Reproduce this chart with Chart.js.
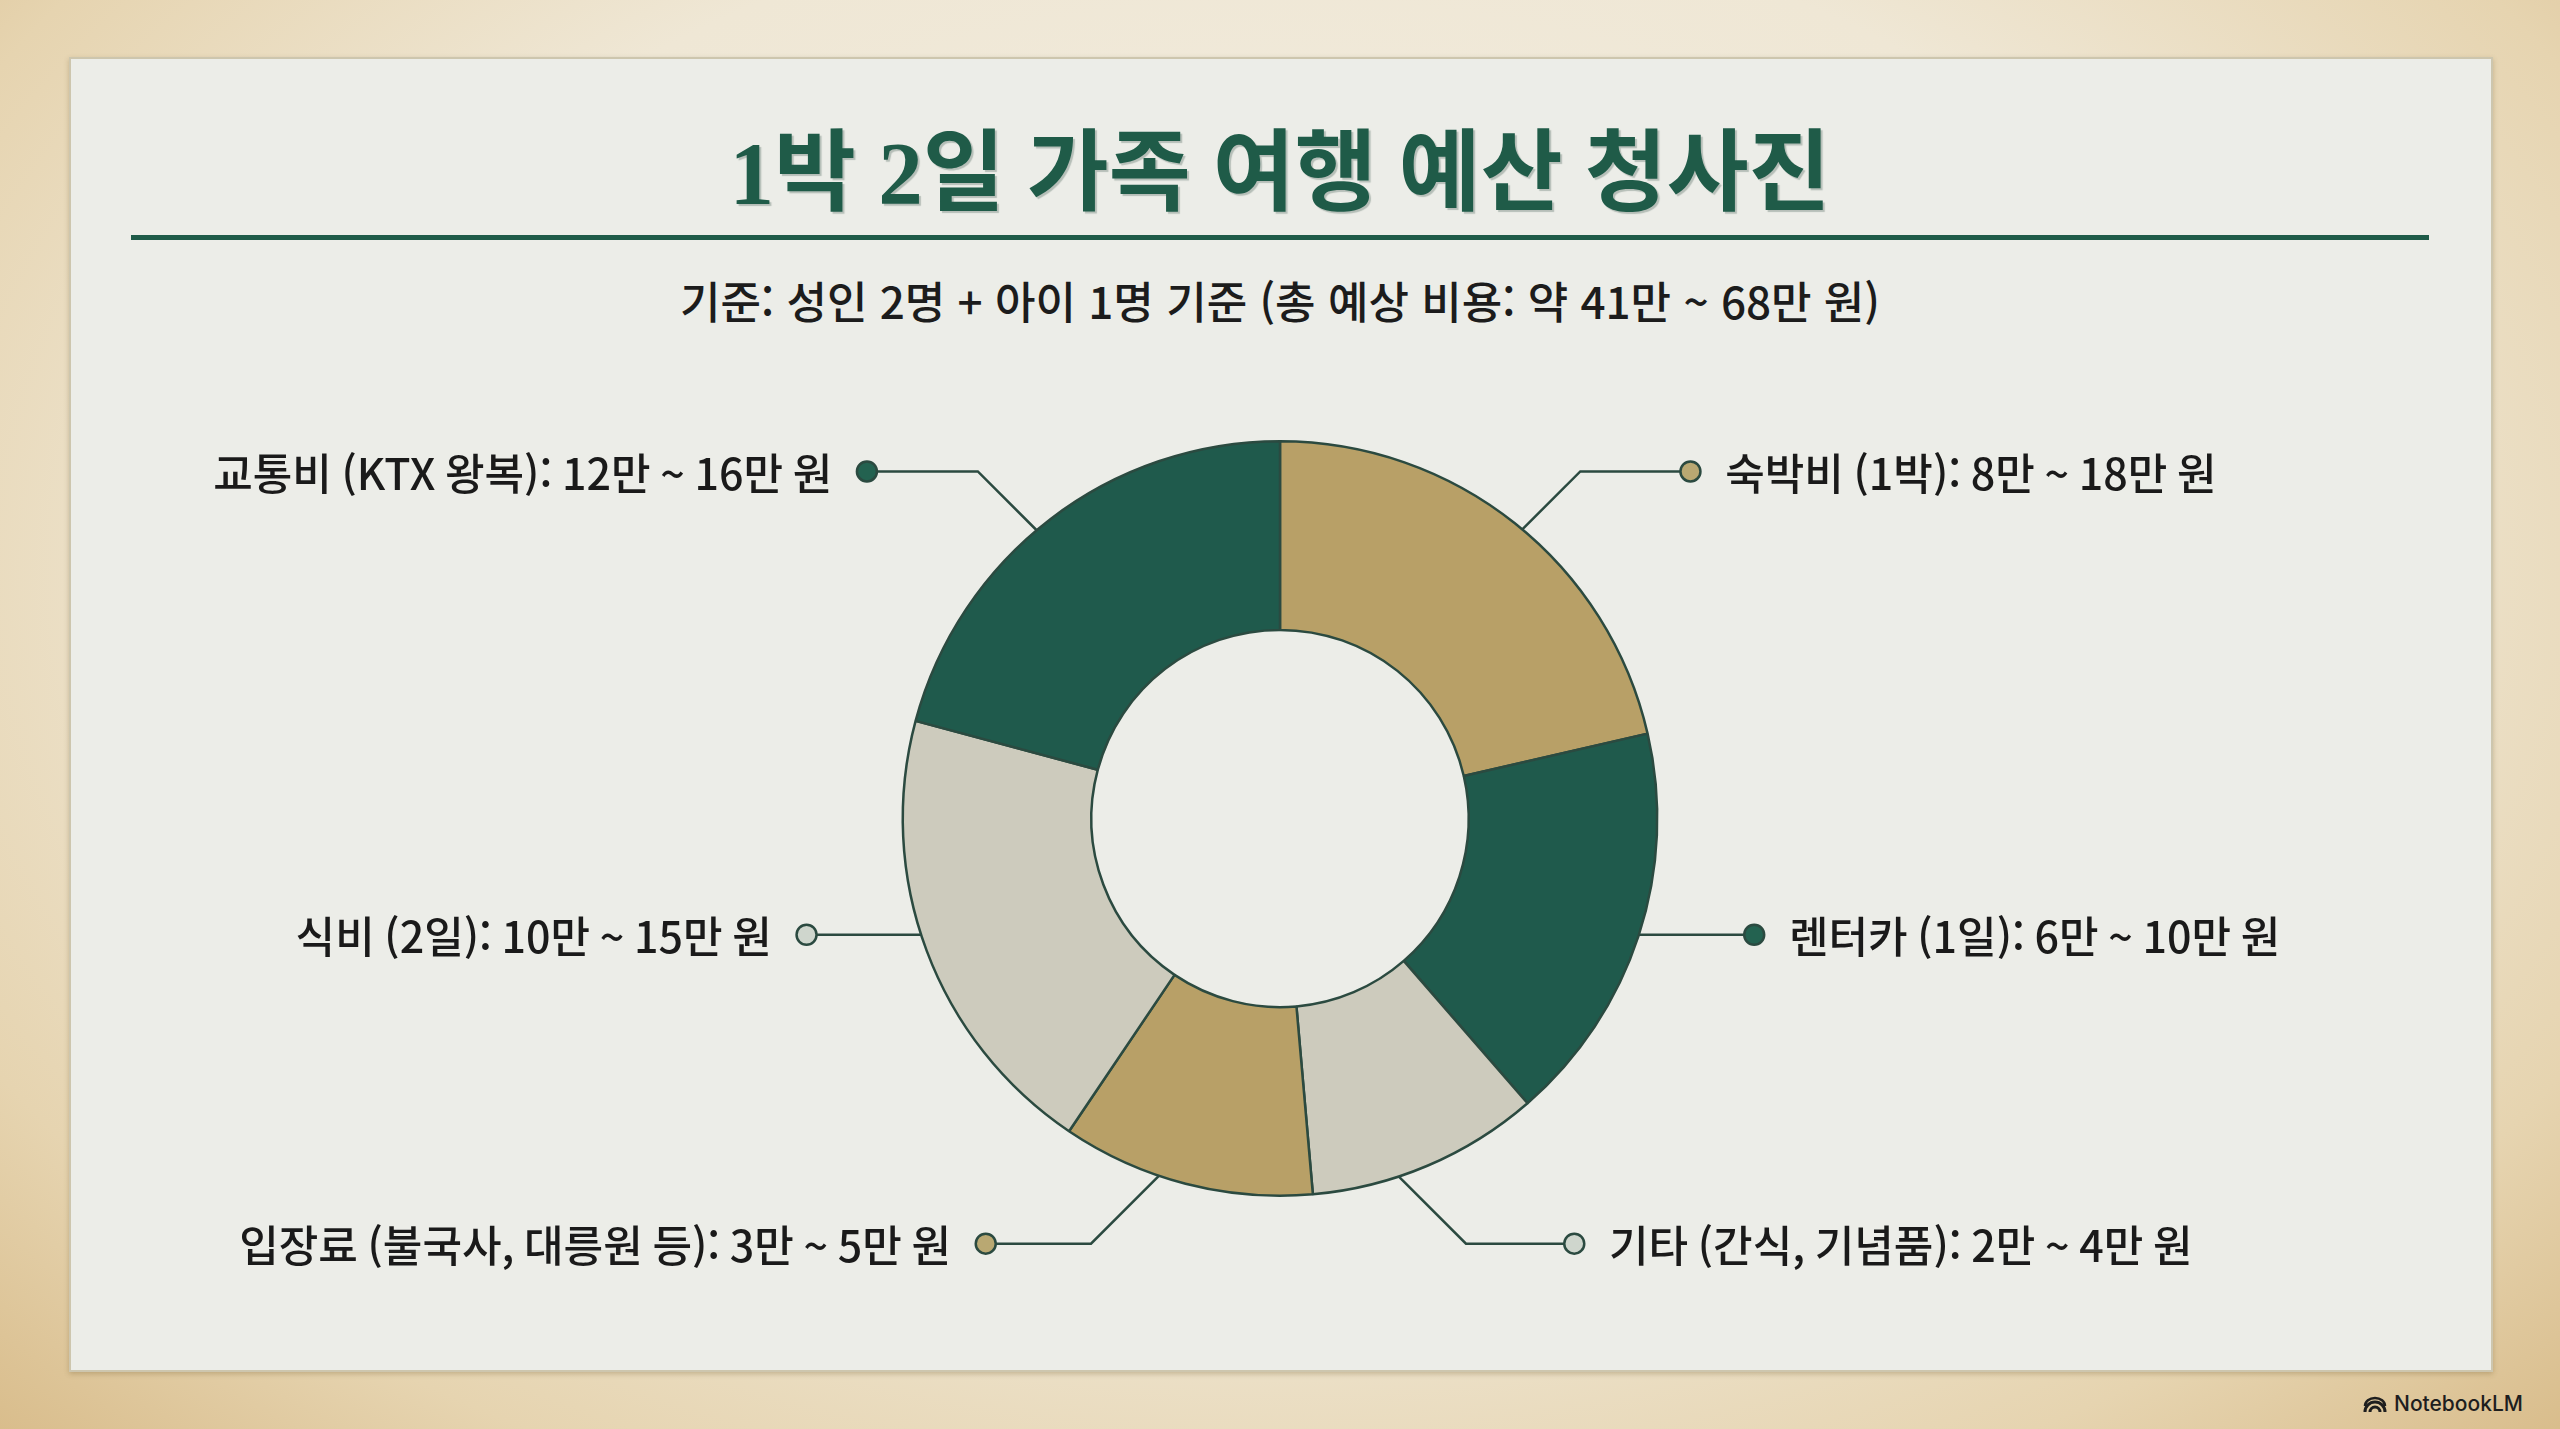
<!DOCTYPE html>
<html lang="ko">
<head>
<meta charset="utf-8">
<title>1박 2일 가족 여행 예산 청사진</title>
<script src="https://cdn.jsdelivr.net/npm/chart.js@4.4.1/dist/chart.umd.min.js"></script>
<style>
  html, body { margin: 0; padding: 0; }
  body {
    width: 2560px; height: 1429px; position: relative; overflow: hidden;
    font-family: "Noto Sans CJK KR", sans-serif;
    background:
      radial-gradient(ellipse at 50% 40%, #f3eee3 0%, #efe7d5 55%, #e6d4b0 82%, #d9bd8c 100%);
  }
  .panel {
    position: absolute; left: 69px; top: 57px; width: 2424px; height: 1315px;
    box-sizing: border-box; background: #ecede8;
    border: 2px solid #cdc6ae;
    box-shadow: 0 2px 5px rgba(110, 85, 40, 0.3);
  }
  h1 {
    position: absolute; left: 0; right: 0; top: 100px; margin: 0;
    text-align: center; line-height: 100px;
    font: 700 89px "Liberation Serif", "Noto Sans CJK KR", serif;
    color: #1f5b48;
    text-shadow: 2px 2px 1px rgba(20, 50, 40, 0.25);
  }
  .rule {
    position: absolute; left: 131px; width: 2298px; top: 235px; height: 5px;
    background: #1f5b48;
  }
  .sub {
    position: absolute; left: 0; right: 0; top: 268px; margin: 0;
    text-align: center; line-height: 52px;
    font: 500 44px "Noto Sans CJK KR", sans-serif;
    color: #1c1c1c;
  }
  #chartBox { position: absolute; left: 0; top: 400px; width: 2560px; height: 900px; }
  .brand {
    position: absolute; left: 2362px; top: 1390px; height: 26px;
    display: flex; align-items: center; gap: 6px;
    font: 500 21px Inter, Roboto, sans-serif; color: #1e1e1e;
  }
</style>
</head>
<body>
<div class="panel"></div>
<h1>1박 2일 가족 여행 예산 청사진</h1>
<div class="rule"></div>
<p class="sub">기준: 성인 2명 + 아이 1명 기준 (총 예상 비용: 약 41만 ~ 68만 원)</p>
<div id="chartBox"><canvas id="budgetChart"></canvas></div>
<div class="brand">
  <svg width="26" height="20" viewBox="0 0 26 20">
    <path d="M3 19 A10 10 0 0 1 23 19" fill="none" stroke="#1e1e1e" stroke-width="3"/>
    <path d="M8 19 A5 5 0 0 1 18 19" fill="none" stroke="#1e1e1e" stroke-width="3"/>
    <path d="M3 13 A10 8 0 0 1 23 13" fill="none" stroke="#1e1e1e" stroke-width="2.5"/>
  </svg>
  <span>NotebookLM</span>
</div>
<script>
// categories, clockwise from 12 o'clock
const categories = [
  "숙박비 (1박)",
  "렌터카 (1일)",
  "기타 (간식, 기념품)",
  "입장료 (불국사, 대릉원 등)",
  "식비 (2일)",
  "교통비 (KTX 왕복)",
];
// cost range in 만 원
const minCost = [8, 6, 2, 3, 10, 12];
const maxCost = [18, 10, 4, 5, 15, 16];
// slice sizes (degrees of the ring)
const sliceShare = [77, 62, 36, 39, 71, 75];

const sliceColors = ["#b8a067", "#1f5a4c", "#cdcbbd", "#b8a067", "#cdcbbd", "#1f5a4c"];
const dotColors = ["#b9a872", "#236250", "#cfd6cd", "#b9a872", "#cfd6cd", "#236250"];

// label placement in units of the outer radius, relative to the ring centre
const labelLayout = [
  { dotX: 1.088, dotY: -0.92, elbowX: 0.796 },
  { dotX: 1.257, dotY: 0.308 },
  { dotX: 0.78, dotY: 1.127, elbowX: 0.493 },
  { dotX: -0.78, dotY: 1.127, elbowX: -0.501 },
  { dotX: -1.255, dotY: 0.308 },
  { dotX: -1.095, dotY: -0.92, elbowX: -0.801 },
];

const lineColor = "#2b4a40";

const calloutPlugin = {
  id: "callouts",
  afterDatasetsDraw(chart) {
    const ctx = chart.ctx;
    const arc0 = chart.getDatasetMeta(0).data[0];
    const cx = arc0.x, cy = arc0.y, R = arc0.outerRadius;

    ctx.save();
    labelLayout.forEach((lay, i) => {
      const dx = cx + lay.dotX * R;
      const dy = cy + lay.dotY * R;
      const right = lay.dotX > 0;

      // connector line
      ctx.beginPath();
      ctx.strokeStyle = lineColor;
      ctx.lineWidth = 2.5;
      ctx.moveTo(dx, dy);
      if (lay.elbowX !== undefined) {
        const ex = cx + lay.elbowX * R;
        ctx.lineTo(ex, dy);
        // 45 degree run from the elbow into the ring
        const sx = ex > cx ? -1 : 1;
        const sy = dy > cy ? -1 : 1;
        const px = ex - cx, py = dy - cy;
        const b = sx * px + sy * py;
        const c = px * px + py * py - R * R;
        const t = (-b - Math.sqrt(b * b - 2 * c)) / 2;
        ctx.lineTo(ex + sx * t, dy + sy * t);
      } else {
        const hx = Math.sqrt(Math.max(R * R - (dy - cy) * (dy - cy), 0));
        ctx.lineTo(right ? cx + hx : cx - hx, dy);
      }
      ctx.stroke();

      // dot
      ctx.beginPath();
      ctx.arc(dx, dy, 10, 0, Math.PI * 2);
      ctx.fillStyle = dotColors[i];
      ctx.fill();
      ctx.lineWidth = 2.5;
      ctx.strokeStyle = lineColor;
      ctx.stroke();

      // label text
      const text = `${categories[i]}: ${minCost[i]}만 ~ ${maxCost[i]}만 원`;
      ctx.font = '500 43px "Noto Sans CJK KR", sans-serif';
      ctx.fillStyle = "#1a1a1a";
      ctx.textBaseline = "middle";
      ctx.textAlign = right ? "left" : "right";
      const gap = 0.092 * R;
      ctx.fillText(text, right ? dx + gap : dx - gap, dy + 2);
    });
    ctx.restore();
  },
};

const ctx = document.getElementById("budgetChart").getContext("2d");
window.budgetChart = new Chart(ctx, {
  type: "doughnut",
  data: {
    labels: categories,
    datasets: [
      {
        label: "예산 비중",
        data: sliceShare,
        backgroundColor: sliceColors,
        borderColor: lineColor,
        borderWidth: 2.5,
        hoverOffset: 0,
      },
    ],
  },
  options: {
    responsive: true,
    maintainAspectRatio: false,
    animation: false,
    cutout: "50%",
    layout: { padding: { top: 40, bottom: 103 } },
    plugins: {
      legend: { display: false },
      tooltip: { enabled: false },
    },
  },
  plugins: [calloutPlugin],
});
</script>
</body>
</html>
